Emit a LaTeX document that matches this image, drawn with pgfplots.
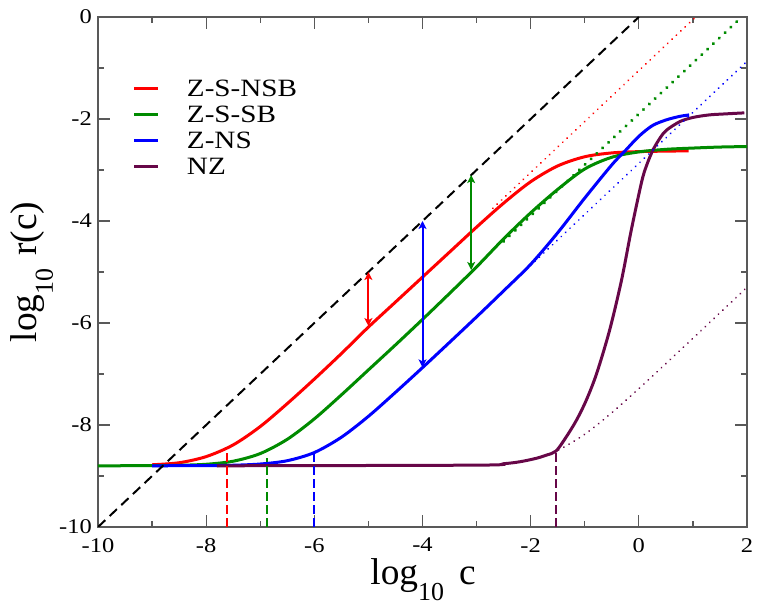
\documentclass[border=0pt]{standalone}
\usepackage{fontspec}
\setmainfont{Liberation Serif}
\usepackage{graphicx}
\usepackage{pgfplots}
\pgfplotsset{compat=1.18}
\usetikzlibrary{arrows.meta}
\definecolor{gr}{RGB}{0,139,0}
\definecolor{mar}{RGB}{103,7,72}
\definecolor{axgray}{gray}{0.35}
\newcommand\sx[1]{\scalebox{1.17}[1]{#1}}
\begin{document}
\begin{tikzpicture}
\useasboundingbox (-98bp,-83bp) rectangle (664bp,527bp);
\begin{axis}[
  at={(0,0)}, anchor=south west,
  scale only axis, width=649bp, height=510bp,
  xmin=-10, xmax=2, ymin=-10, ymax=0,
  xtick={-10,-8,-6,-4,-2,0,2}, xticklabels={\sx{-10},\sx{-8},\sx{-6},\sx{-4},\sx{-2},\sx{0},\sx{2}},
  ytick={-10,-8,-6,-4,-2,0}, yticklabels={\sx{-10},\sx{-8},\sx{-6},\sx{-4},\sx{-2},\sx{0}},
  minor x tick num=1, minor y tick num=1,
  tick align=inside, major tick length=12bp, minor tick length=6bp,
  axis line style={draw=axgray, line width=1.3bp},
  tick style={draw=axgray, line width=1.2bp},
  ticklabel style={font=\fontsize{21}{21}\selectfont},
  xticklabel style={anchor=north, inner sep=0pt, yshift=-11bp},
  yticklabel style={anchor=east, inner sep=0pt, xshift=-6bp},
  xlabel={log\raisebox{-16bp}{\fontsize{26}{26}\selectfont 10}\hspace{15bp}c},
  ylabel={log\raisebox{-16bp}{\fontsize{26}{26}\selectfont 10}\hspace{13bp}r(c)},
  xlabel style={at={(axis description cs:0.5008,-0.1118)}, anchor=base, font=\fontsize{37.5}{40}\selectfont, inner sep=0pt},
  ylabel style={at={(axis description cs:-0.094,0.5)}, anchor=base, font=\fontsize{37.5}{40}\selectfont, inner sep=0pt},
  legend style={at={(axis description cs:0.0539,0.8765)}, anchor=north west, draw=none, fill=none,
    inner sep=0pt, outer sep=0pt, font=\fontsize{25}{25}\selectfont,
    row sep=9bp, column sep=27bp, nodes={inner sep=0pt, text height=17bp, text depth=0pt}},
  legend cell align=left,
  legend image code/.code={\draw[#1, line width=3bp] (0bp,0bp) -- (24bp,0bp);},
]
% solid curves
\addplot[red, line width=3bp, smooth, tension=0.5] coordinates {
(-9,-8.78) (-8.5,-8.74) (-8,-8.62) (-7.5,-8.39) (-7,-8.03) (-6.5,-7.58) (-6,-7.10)
(-5.5,-6.60) (-5,-6.08) (-4.5,-5.59) (-4,-5.10) (-3.5,-4.61) (-3,-4.12) (-2.5,-3.65)
(-2,-3.23) (-1.5,-2.92) (-1,-2.74) (-0.5,-2.665) (0,-2.64) (0.5,-2.63) (0.92,-2.625)};
\addlegendentry{\sx{Z-S-NSB}}
\addplot[gr, line width=3bp, smooth, tension=0.5] coordinates {
(-10,-8.80) (-9,-8.797) (-8.5,-8.79) (-8,-8.77) (-7.5,-8.71) (-7,-8.56) (-6.5,-8.28)
(-6,-7.88) (-5.5,-7.41) (-5,-6.92) (-4.5,-6.43) (-4,-5.93) (-3.5,-5.42) (-3,-4.90)
(-2.5,-4.35) (-2,-3.84) (-1.5,-3.38) (-1,-2.98) (-0.5,-2.75) (0,-2.645) (0.5,-2.595)
(1,-2.57) (1.5,-2.55) (2,-2.54)};
\addlegendentry{\sx{Z-S-SB}}
\addplot[blue, line width=3bp, smooth, tension=0.5] coordinates {
(-9,-8.80) (-8,-8.796) (-7.5,-8.789) (-7,-8.765) (-6.5,-8.70) (-6,-8.54) (-5.5,-8.24)
(-5,-7.83) (-4.5,-7.36) (-4,-6.875) (-3.5,-6.38) (-3,-5.88) (-2.5,-5.37) (-2,-4.85)
(-1.5,-4.23) (-1,-3.55) (-0.5,-2.90) (-0.25,-2.62) (0,-2.34) (0.25,-2.13) (0.5,-2.02)
(0.75,-1.95) (0.93,-1.92)};
\addlegendentry{\sx{Z-NS}}
\addplot[mar, line width=3bp, smooth, tension=0.5] coordinates {
(-7.8,-8.80) (-3,-8.787) (-2.5,-8.759) (-2.2,-8.721) (-1.9,-8.654) (-1.7,-8.588)
(-1.53,-8.51) (-1.34,-8.23) (-1.15,-7.90) (-0.97,-7.51) (-0.78,-6.99) (-0.54,-6.14)
(-0.32,-5.16) (-0.14,-4.18) (0.05,-3.24) (0.14,-2.92) (0.26,-2.61) (0.4,-2.36)
(0.51,-2.22) (0.76,-2.05) (1.0,-1.97) (1.3,-1.92) (1.6,-1.90) (1.95,-1.88)};
\addlegendentry{\sx{NZ}}
% dotted asymptotes
\addplot[red, line width=2bp, line cap=round, dash pattern=on 0.01bp off 6bp, forget plot]
  coordinates {(-2.7,-3.75) (1.05,0)};
\addplot[gr, line width=3.5bp, line cap=round, dash pattern=on 0.01bp off 8bp, forget plot]
  coordinates {(-2.5,-4.4) (1.9,0)};
\addplot[blue, line width=2bp, line cap=round, dash pattern=on 0.01bp off 6bp, forget plot]
  coordinates {(-2,-4.87) (2,-0.87)};
\addplot[mar, line width=2bp, line cap=round, dash pattern=on 0.01bp off 6bp, smooth, forget plot]
  coordinates {(-1.9,-8.654) (-1.5,-8.499) (-1,-8.181) (-0.5,-7.759) (0,-7.287)
  (0.5,-6.796) (1,-6.299) (1.5,-5.80) (2,-5.30)};
% diagonal
\addplot[black, line width=2bp, dash pattern=on 10bp off 6bp, forget plot]
  coordinates {(-10,-10) (0,0)};
% vertical dashed markers
\addplot[red, line width=2bp, dash pattern=on 9bp off 4bp, forget plot]
  coordinates {(-7.61,-10) (-7.61,-8.46)};
\addplot[gr, line width=2bp, dash pattern=on 9bp off 4bp, forget plot]
  coordinates {(-6.88,-10) (-6.88,-8.65)};
\addplot[blue, line width=2bp, dash pattern=on 9bp off 4bp, forget plot]
  coordinates {(-6.0,-10) (-6.0,-8.55)};
\addplot[mar, line width=2bp, dash pattern=on 9bp off 4bp, forget plot]
  coordinates {(-1.53,-10) (-1.53,-8.51)};
% arrows
\addplot[red, line width=2bp, {Stealth[length=8bp,width=8bp,inset=2bp]}-{Stealth[length=8bp,width=8bp,inset=2bp]}, forget plot]
  coordinates {(-5,-5) (-5,-6.06)};
\addplot[blue, line width=2bp, {Stealth[length=8bp,width=8bp,inset=2bp]}-{Stealth[length=8bp,width=8bp,inset=2bp]}, forget plot]
  coordinates {(-4,-4) (-4,-6.87)};
\addplot[gr, line width=2bp, {Stealth[length=8bp,width=8bp,inset=2bp]}-{Stealth[length=8bp,width=8bp,inset=2bp]}, forget plot]
  coordinates {(-3.1,-3.1) (-3.1,-4.96)};
\end{axis}
\end{tikzpicture}
\end{document}
